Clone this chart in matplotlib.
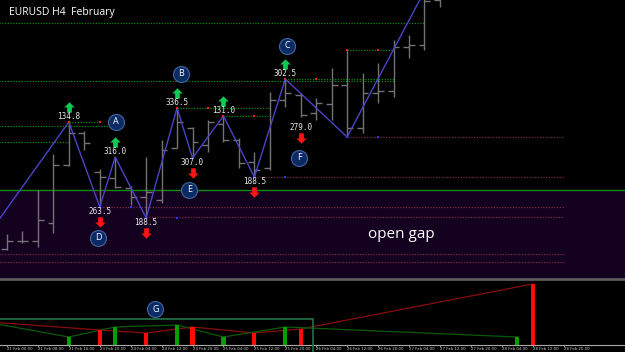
import matplotlib.pyplot as plt
from matplotlib.path import Path
from matplotlib.patches import Rectangle
from matplotlib.transforms import ScaledTranslation

# EURUSD H4 bars, index 0 = 21 Feb 00:00
opens = [1.07856, 1.07904, 1.07904, 1.08012, 1.08360, 1.08552, 1.08318, 1.08282,
         1.08222, 1.08168, 1.08150, 1.08462, 1.08582, 1.08480, 1.08606, 1.08510,
         1.08378, 1.08342, 1.08750, 1.08780, 1.08672, 1.08726, 1.08840, 1.08582,
         1.08792, 1.08804, 1.09068, 1.09080, 1.09350]
highs = [1.07946, 1.07966, 1.08210, 1.08426, 1.08618, 1.08564, 1.08336, 1.08408,
         1.08234, 1.08408, 1.08510, 1.08702, 1.08588, 1.08630, 1.08654, 1.08522,
         1.08438, 1.08798, 1.08876, 1.08792, 1.08762, 1.08942, 1.09050, 1.08912,
         1.08972, 1.09110, 1.09140, 1.09410, 1.09578]
lows = [1.07850, 1.07892, 1.07868, 1.07952, 1.08354, 1.08450, 1.08108, 1.08222,
        1.08120, 1.08042, 1.08132, 1.08462, 1.08402, 1.08438, 1.08498, 1.08342,
        1.08288, 1.08330, 1.08708, 1.08648, 1.08630, 1.08630, 1.08528, 1.08552,
        1.08732, 1.08768, 1.09002, 1.09050, 1.09308]
closes = [1.07904, 1.07904, 1.08030, 1.08360, 1.08552, 1.08492, 1.08288, 1.08228,
          1.08168, 1.08198, 1.08450, 1.08618, 1.08498, 1.08618, 1.08510, 1.08372,
          1.08330, 1.08750, 1.08792, 1.08660, 1.08732, 1.08840, 1.08582, 1.08792,
          1.08804, 1.09068, 1.09080, 1.09344, 1.09470]

tick_bars = list(range(0, 37, 2))
tick_labels = ['21 Feb 00:00', '21 Feb 08:00', '21 Feb 16:00', '23 Feb 20:00',
               '24 Feb 04:00', '24 Feb 12:00', '24 Feb 20:00', '25 Feb 04:00',
               '25 Feb 12:00', '25 Feb 20:00', '26 Feb 04:00', '26 Feb 12:00',
               '26 Feb 20:00', '27 Feb 04:00', '27 Feb 12:00', '27 Feb 20:00',
               '28 Feb 04:00', '28 Feb 12:00', '28 Feb 20:00']

# zigzag swing points
zz_bars = [-1, 4, 6, 7, 9, 11, 12, 14, 16, 18, 22, 28]
zz_prices = [1.07970, 1.08618, 1.08108, 1.08408, 1.08042, 1.08702, 1.08402,
             1.08654, 1.08288, 1.08876, 1.08528, 1.09578]

# swing signals: label, arrow
sig_bars = [4, 6, 7, 9, 11, 12, 14, 16, 18, 19]
sig_prices = [1.08618, 1.08108, 1.08408, 1.08042, 1.08702, 1.08402, 1.08654,
              1.08288, 1.08876, 1.08612]
sig_texts = ['134.8', '263.5', '316.0', '188.5', '336.5', '307.0', '131.0',
             '188.5', '302.5', '279.0']
sig_up = [True, False, True, False, True, False, True, False, True, False]

# lettered points
letters = ['A', 'B', 'C', 'D', 'E', 'F']
letter_bars = [7.05, 11.25, 18.1, 5.9, 11.8, 18.9]
letter_prices = [1.08618, 1.08906, 1.09074, 1.07922, 1.08210, 1.08402]

# resistance / support levels (start bar, end bar, price)
res_start = [-1, -1, 18, 22, 11, 14, 4, -1, -1]
res_end = [27, 25, 25, 25, 17, 17, 6, 7, 4]
res_price = [1.09212, 1.08864, 1.08876, 1.09050, 1.08702, 1.08654, 1.08618,
             1.08594, 1.08498]
sup_start = [22, 16, 6, 9, -1, -1]
sup_end = [36, 36, 36, 36, 36, 36]
sup_price = [1.08528, 1.08288, 1.08108, 1.08048, 1.07826, 1.07778]

# level touches
red_mark_bars = [4, 11, 14, 18, 6, 13, 16, 20, 22, 24]
red_mark_prices = [1.08618, 1.08702, 1.08654, 1.08876, 1.08618, 1.08702,
                   1.08654, 1.08876, 1.09050, 1.09050]
blue_mark_bars = [6, 9, 16, 22, 8, 11, 18, 24]
blue_mark_prices = [1.08108, 1.08042, 1.08288, 1.08528, 1.08108, 1.08042,
                    1.08288, 1.08528]

gap_top = 1.08210
gap_bottom = 1.07600

# swing size histogram
hist_bars = [-2, -1, 4, 6, 7, 9, 11, 12, 14, 16, 18, 19, 33, 34]
hist_values = [24, 22, 8, 15, 18, 12, 20, 18, 8, 12, 18, 16, 8, 61]
hist_up = [False, True, True, False, True, False, True, False, True, False,
           True, False, True, False]

W, H = 625, 352
fig = plt.figure(figsize=(W / 100, H / 100), dpi=100, facecolor='black')
ax = fig.add_axes([0, (H - 279) / H, 1, 279 / H], facecolor='black')
ax2 = fig.add_axes([0, (H - 345) / H, 1, 63 / H], facecolor='black')

x_lo, x_hi = -7 / 15.46, 618 / 15.46
ax.set_xlim(x_lo, x_hi)
ax.set_ylim(1.07676, 1.09350)
ax2.set_xlim(x_lo, x_hi)
ax2.set_ylim(0, 63)

# gap zone
ax.axhspan(gap_bottom, gap_top, color='#14001f', zorder=0, lw=0)
ax.axhline(gap_top, color='#178a17', lw=1, zorder=1)

for s, e, p in zip(res_start, res_end, res_price):
    ax.hlines(p, s, e, colors='#0c8a0c', lw=0.9, linestyles=(0, (1, 1.2)), zorder=1)
for s, e, p in zip(sup_start, sup_end, sup_price):
    ax.hlines(p, s, e, colors='#7a2a44', lw=0.9, linestyles=(0, (1, 1.2)), zorder=1)

# OHLC bars
tl = 0.38
for i in range(len(opens)):
    ax.vlines(i, lows[i], highs[i], colors='#737373', lw=1, zorder=2)
    ax.hlines(opens[i], i - tl, i, colors='#737373', lw=1, zorder=2)
    ax.hlines(closes[i], i, i + tl, colors='#737373', lw=1, zorder=2)

ax.plot(zz_bars, zz_prices, color='#4a44c8', lw=1, zorder=3)
ax.plot(red_mark_bars, red_mark_prices, 's', color='#ff1a1a', ms=1.8, mew=0, zorder=4)
ax.plot(blue_mark_bars, blue_mark_prices, 's', color='#2a3cff', ms=1.8, mew=0, zorder=4)

up_arrow = Path([(0, 1), (1, 0), (0.45, 0), (0.45, -1), (-0.45, -1), (-0.45, 0),
                 (-1, 0), (0, 1)],
                [Path.MOVETO] + [Path.LINETO] * 6 + [Path.CLOSEPOLY])
down_arrow = Path([(x, -y) for x, y in up_arrow.vertices], up_arrow.codes)


def shifted(dy_px):
    return ax.transData + ScaledTranslation(0, dy_px / 100, fig.dpi_scale_trans)


for b, p, t, up in zip(sig_bars, sig_prices, sig_texts, sig_up):
    if up:
        ax.plot(b, p, marker=up_arrow, ms=7.5, color='#12c855', mew=0,
                transform=shifted(15), zorder=5)
        ax.text(b, p, t, transform=shifted(5.5), ha='center', va='center',
                color='#e8e8e8', fontsize=5.5, family='DejaVu Sans Mono', zorder=5)
    else:
        ax.plot(b, p, marker=down_arrow, ms=7.5, color='#ff1414', mew=0,
                transform=shifted(-15), zorder=5)
        ax.text(b, p, t, transform=shifted(-4.5), ha='center', va='center',
                color='#e8e8e8', fontsize=5.5, family='DejaVu Sans Mono', zorder=5)

for b, p, t in zip(letter_bars, letter_prices, letters):
    ax.plot(b, p, 'o', ms=11.5, mfc='#0c2a64', mec='#45659f', mew=0.8, zorder=6)
    ax.text(b, p, t, ha='center', va='center', color='white', fontsize=6.5,
            family='Open Sans', zorder=7)

ax.text(368 / W, (279 - 234) / 279, 'open gap', transform=ax.transAxes,
        color='white', fontsize=11, family='Open Sans', va='center', ha='left')
fig.text(9 / W, 1 - 13 / H, 'EURUSD H4  February', color='white', fontsize=7.5,
         family='Open Sans', va='center', ha='left')

ax.set_xticks([])
ax.set_yticks([])
for side in ['top', 'left', 'right']:
    ax.spines[side].set_visible(False)
ax.spines['bottom'].set_color('#5c5c5c')
ax.spines['bottom'].set_linewidth(2)

# lower panel
g_x = [b for b, u in zip(hist_bars, hist_up) if u]
g_v = [v for v, u in zip(hist_values, hist_up) if u]
r_x = [b for b, u in zip(hist_bars, hist_up) if not u]
r_v = [v for v, u in zip(hist_values, hist_up) if not u]
ax2.bar(g_x, g_v, width=0.27, color='#00a000', zorder=3)
ax2.bar(r_x, r_v, width=0.27, color='#ff0a0a', zorder=3)
ax2.plot(r_x, r_v, color='#8a0c0c', lw=0.9, zorder=2)
ax2.plot(g_x, g_v, color='#0a5a0a', lw=0.9, zorder=2)
ax2.add_patch(Rectangle((-1, -12), 20.8, 38, fill=False, ec='#1f6a44', lw=1.3,
                        clip_on=False, zorder=4))
ax2.plot(9.6, 36, 'o', ms=11.5, mfc='#0c2a64', mec='#45659f', mew=0.8, zorder=6)
ax2.text(9.6, 36, 'G', ha='center', va='center', color='white', fontsize=6.5,
         family='Open Sans', zorder=7)

ax2.set_yticks([])
ax2.set_xticks(tick_bars)
ax2.set_xticklabels(tick_labels, fontsize=2.8, color='#c8c8c8', ha='left')
ax2.tick_params(axis='x', length=1.2, width=0.6, color='#a0a0a0', pad=0.3)
for side in ['top', 'left', 'right']:
    ax2.spines[side].set_visible(False)
ax2.spines['bottom'].set_color('#a8a8a8')
ax2.spines['bottom'].set_linewidth(0.8)

fig.savefig('out.png', dpi=100, facecolor='black')
